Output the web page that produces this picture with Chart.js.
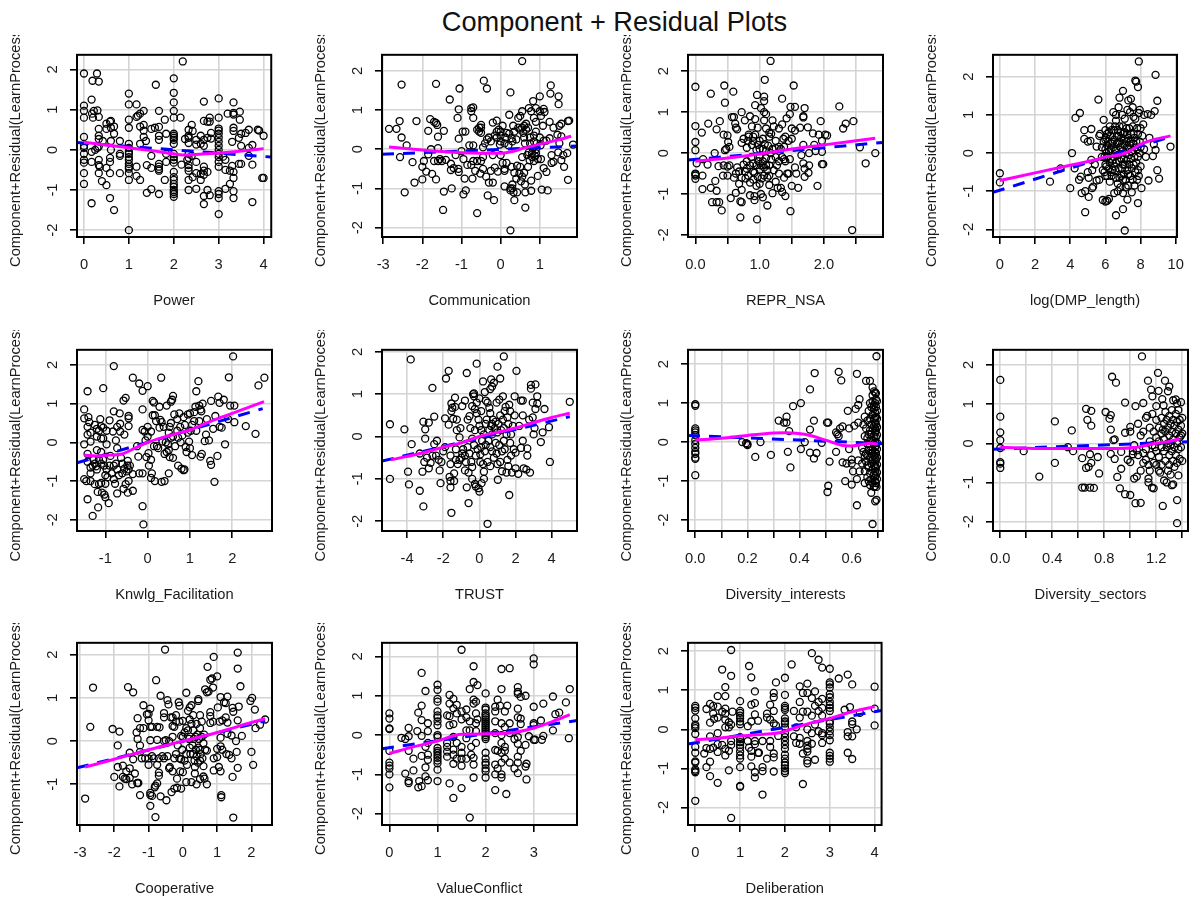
<!DOCTYPE html>
<html>
<head>
<meta charset="utf-8">
<title>Component + Residual Plots</title>
<script src="https://cdn.jsdelivr.net/npm/chart.js@4"></script>
<style>
  html, body { margin: 0; padding: 0; background: #fff; }
  #page { position: relative; width: 1203px; height: 898px; overflow: hidden; }
  #title { position: absolute; left: 0; top: 6px; width: 1229px; text-align: center; font: 27.2px "Liberation Sans", Arial, sans-serif; color: #111; }
  canvas { position: absolute; }
</style>
</head>
<body>
<div id="page"><div id="title">Component + Residual Plots</div></div>
<script>
const yAxisTitle = 'Component+Residual(LearnProcess)';

// points are [x, y] pairs
const powerPts = [[0,1.9],[0,1.1],[0,0.97],[0,0.8],[0,0.32],[0,0.1],[0,0.05],[0,-0.1],[0,-0.25],[0,-0.32],[0,-0.58],[0,-0.85],[0.17,1.25],[0.18,0.9],[0.2,0.8],[0.22,0.97],[0.29,1.9],[0.19,1.72],[0.33,1.7],[0.3,0.98],[0.33,0.82],[0.33,0.52],[0.33,0.35],[0.33,0.27],[0.42,0.22],[0.17,-1.33],[0.17,-0.3],[0.17,-0.05],[0.25,0],[0.3,0.05],[0.33,0.08],[0.33,-0.25],[0.33,-0.38],[0.35,-0.42],[0.33,-0.58],[0.4,-0.78],[0.5,-0.88],[0.5,-0.45],[0.5,0.52],[0.5,0.65],[0.58,0.7],[0.6,0.72],[0.6,0.55],[0.67,0.58],[0.67,0.4],[0.6,0.22],[0.58,-0.2],[0.58,-0.3],[0.6,0],[0.58,-0.58],[0.58,-1.2],[0.67,-1.5],[0.8,0.22],[0.8,-0.1],[0.8,-0.15],[0.8,-0.58],[1,1.4],[1,1.13],[1,0.75],[1,0.55],[1,0.15],[1,0.05],[1,-0.05],[1,-0.1],[1,-0.18],[1,-0.25],[1,-0.35],[1,-0.42],[1,-0.47],[1,-0.58],[1,-0.75],[1,-2],[1.17,1.13],[1.17,0.82],[1.2,0.85],[1.25,0.9],[1.33,0.97],[1.25,0.58],[1.33,0.62],[1.33,0.48],[1.33,0.32],[1.25,0.15],[1.38,0.22],[1.17,-0.42],[1.17,-0.65],[1.25,-0.75],[1.4,-1.07],[1.5,-0.98],[1.4,-0.38],[1.5,-0.45],[1.5,-0.15],[1.5,0.52],[1.58,0.55],[1.67,0.57],[1.6,1.62],[1.67,0.97],[1.67,0.35],[1.67,0.25],[1.67,-0.35],[1.67,-0.42],[1.67,-0.48],[1.67,-0.52],[1.67,-1.1],[1.8,0.75],[1.83,0.4],[1.83,-0.1],[1.83,-0.3],[1.8,-0.75],[2,1.78],[2,1.42],[2,1.18],[2,0.97],[2,0.8],[2,0.4],[2,0.35],[2,0.3],[2,0.25],[2,0.15],[2,-0.1],[2,-0.18],[2,-0.25],[2,-0.32],[2,-0.55],[2,-0.68],[2,-0.75],[2,-0.85],[2,-0.92],[2,-1],[2,-1.05],[2,-1.1],[2,-1.17],[2.15,0.8],[2.2,2.2],[2.17,-0.37],[2.25,0.27],[2.3,-0.25],[2.33,-0.45],[2.33,-0.52],[2.33,0.3],[2.33,0.35],[2.33,0.17],[2.33,-0.1],[2.33,-0.2],[2.33,-0.38],[2.33,-0.75],[2.33,-1],[2.33,0.5],[2.4,0.62],[2.42,0.47],[2.4,-0.15],[2.42,-0.68],[2.5,0.25],[2.5,0.13],[2.5,-0.3],[2.5,-0.58],[2.5,-0.97],[2.6,0.35],[2.6,0.15],[2.6,-0.6],[2.6,-0.75],[2.67,1.2],[2.67,0.72],[2.67,0.25],[2.67,0.1],[2.67,-0.42],[2.67,-0.52],[2.67,-0.62],[2.67,-1.15],[2.67,-1.35],[2.75,0.7],[2.75,0.3],[2.75,-0.55],[2.75,-1],[2.8,0.8],[2.8,0.7],[2.83,0.42],[2.83,0.28],[2.8,-1.13],[3,1.28],[3,0.8],[3,0.53],[3,0.48],[3,0.4],[3,0.3],[3,0.2],[3,0.1],[3,0],[3,-0.1],[3,-0.18],[3,-0.3],[3,-0.42],[3,-1.03],[3,-1.1],[3,-1.2],[3,-1.6],[3.2,0.9],[3.1,-0.17],[3.15,-0.25],[3.15,-0.5],[3.15,-0.97],[3.25,-0.52],[3.25,-0.85],[3.3,-0.4],[3.3,0.2],[3.33,0.92],[3.33,0.88],[3.33,1.18],[3.33,0.55],[3.33,0.47],[3.33,-0.55],[3.33,-0.7],[3.33,-1.03],[3.33,-1.2],[3.47,0.95],[3.47,0.75],[3.45,0.3],[3.45,-0.35],[3.5,0.4],[3.5,0.1],[3.5,-0.35],[3.6,0.42],[3.67,0.5],[3.67,0.05],[3.67,-0.15],[3.75,0.12],[3.75,-0.37],[3.75,-1.3],[3.87,0.5],[3.9,0.48],[4,0.35],[4,-0.7],[3.97,-0.7]];
const powerFit = [[0,0.19],[0.5,0.12],[1,0.05],[1.5,-0.02],[2,-0.1],[2.3,-0.13],[2.7,-0.1],[3,-0.08],[3.5,-0.03],[4,0.03]];
const powerReg = [[-0.155,0.18],[4.17,-0.18]];

const commPts = [[-2.85,0.52],[-2.66,0.52],[-2.58,0.72],[-2.53,1.65],[-2.53,0.3],[-2.57,-0.2],[-2.4,0.1],[-2.45,-1.1],[-2.25,-0.33],[-2.2,-0.85],[-2.15,0.72],[-2,-0.45],[-2,-0.77],[-1.96,-0.3],[-1.9,-0.57],[-1.85,0.47],[-1.8,0.77],[-1.75,-0.63],[-1.78,0],[-1.85,-0.13],[-1.7,0.7],[-1.65,1.67],[-1.65,0.67],[-1.62,0.62],[-1.6,0.32],[-1.6,0.03],[-1.65,-0.77],[-1.7,-0.3],[-1.6,-0.3],[-1.55,-0.25],[-1.5,-0.3],[-1.45,0.47],[-1.45,-1.08],[-1.47,-1.55],[-1.4,-0.27],[-1.3,1.27],[-1.27,-0.37],[-1.27,-0.53],[-1.25,-1],[-1.2,-0.48],[-1.15,-0.15],[-1.1,0.8],[-1.07,1.02],[-1.07,0.27],[-1.05,1.55],[-1.08,-0.5],[-1.07,-0.58],[-1,-0.05],[-0.97,0.45],[-0.9,0.45],[-0.95,-0.25],[-0.92,-0.75],[-0.95,-1.15],[-0.89,-1.05],[-0.85,-0.4],[-0.8,0.1],[-0.75,0.97],[-0.75,1.05],[-0.7,0.1],[-0.7,1.07],[-0.7,0.8],[-0.72,-0.75],[-0.75,-0.4],[-0.7,-0.3],[-0.65,-0.55],[-0.6,-0.3],[-0.6,0.5],[-0.6,-1.63],[-0.55,0.55],[-0.55,0.45],[-0.5,0.62],[-0.5,0.55],[-0.5,0.42],[-0.52,-0.62],[-0.5,-0.3],[-0.45,-0.5],[-0.45,-0.2],[-0.45,0.05],[-0.43,1.75],[-0.37,-0.7],[-0.35,0.25],[-0.35,1.55],[-0.33,-1.18],[-0.3,-0.85],[-0.3,0.3],[-0.25,-0.55],[-0.2,0.68],[-0.2,-0.85],[-0.2,-0.15],[-0.17,-1.3],[-0.15,-0.47],[-0.15,0.35],[-0.1,0.73],[-0.1,0.45],[-0.1,0.3],[-0.07,-0.57],[-0.05,0.5],[0,0.45],[0,0.35],[0,0.2],[0.05,0.6],[0,-0.15],[0.1,0.15],[0.1,-0.5],[0.1,-0.55],[0.1,-0.95],[0.15,-0.35],[0.15,0.42],[0.2,0.1],[0.22,0.88],[0.22,0.4],[0.25,1.45],[0.25,-2.07],[0.25,-1],[0.25,-1.05],[0.28,-0.45],[0.3,0.2],[0.3,-0.9],[0.3,-1],[0.32,0.6],[0.33,-1.1],[0.35,-1.3],[0.35,-0.6],[0.4,0.25],[0.4,-0.75],[0.42,-1.1],[0.45,0.8],[0.45,0.55],[0.5,0.5],[0.5,0.85],[0.5,-0.45],[0.55,2.25],[0.55,0.97],[0.55,0.55],[0.55,-0.2],[0.55,-0.7],[0.6,0.6],[0.6,0.3],[0.6,-0.6],[0.65,0.65],[0.65,0.5],[0.62,-0.9],[0.63,-1.1],[0.63,-1.49],[0.7,0.55],[0.7,-0.45],[0.72,1.05],[0.75,0.3],[0.75,0.15],[0.8,-0.1],[0.8,-0.2],[0.78,0.97],[0.78,-0.8],[0.78,-1.06],[0.83,1.23],[0.85,0.8],[0.85,0.35],[0.85,0.2],[0.85,-0.3],[0.9,1.05],[0.9,0.7],[0.9,0.45],[0.9,0],[0.9,-0.1],[0.95,-0.25],[0.95,-0.68],[1,1.35],[1,0.3],[1,0.97],[1.03,0.85],[1.03,-0.25],[1.05,-1.03],[1.08,0.6],[1.1,1.03],[1.12,0.95],[1.1,-0.48],[1.17,-0.58],[1.17,0.22],[1.2,-1.05],[1.25,0.7],[1.27,1.42],[1.28,1.63],[1.3,-0.15],[1.3,-0.35],[1.35,-0.32],[1.35,0.55],[1.45,0.37],[1.5,0.15],[1.5,0.6],[1.47,-0.08],[1.48,1.35],[1.48,1.15],[1.55,0.65],[1.55,0.33],[1.55,-0.28],[1.6,-0.15],[1.62,-0.45],[1.7,-0.1],[1.72,0.72],[1.75,0.73],[1.72,-0.78],[1.85,0.12],[0.68,-0.15],[0.72,-0.08],[0.74,-0.28],[0.82,0.02],[0.88,-0.18],[0.92,0.15],[1.02,0.1],[0.58,0.42],[0.62,0.15],[0.35,0.45],[0.28,0.28],[0.12,0.3],[0.05,-0.35],[-0.02,0.12],[-0.25,0.2],[-0.4,0.15],[0.42,-0.42],[0.48,-0.62],[0.52,-0.82],[1.1,0.22],[1.25,0.28]];
const commFit = [[-2.85,0.06],[-2,-0.02],[-1.5,-0.06],[-1,-0.09],[-0.5,-0.1],[0,-0.1],[0.3,-0.06],[0.6,0.03],[1,0.13],[1.4,0.22],[1.8,0.33]];
const commReg = [[-3.03,-0.13],[1.95,0.08]];

const reprPts = [[0,1.62],[0.1,0.5],[0,0.66],[0,0.27],[0,0.07],[0.02,-0.25],[0,-0.5],[0,-0.52],[0,-0.55],[0,-0.63],[0.11,-0.55],[0.11,-0.88],[0.2,0.72],[0.19,-0.28],[0.12,-0.15],[0.24,1.45],[0.24,-0.85],[0.26,-1.2],[0.3,0],[0.31,-0.68],[0.33,0.58],[0.33,-0.92],[0.33,-1.2],[0.37,-1.2],[0.38,0.78],[0.36,-0.32],[0.41,-1.4],[0.44,0.45],[0.43,-0.55],[0.44,-0.3],[0.46,0.07],[0.45,1.65],[0.46,1.23],[0.5,0.43],[0.48,0.1],[0.5,-0.33],[0.5,-0.55],[0.51,0.27],[0.53,0.15],[0.53,-0.3],[0.55,-1.1],[0.57,0.88],[0.59,1.5],[0.6,0.88],[0.6,-0.6],[0.62,0.72],[0.63,0.62],[0.63,-0.97],[0.63,-0.5],[0.65,0.58],[0.65,-0.35],[0.68,-0.75],[0.7,-1.18],[0.7,-1.57],[0.72,-1.2],[0.72,-0.9],[0.72,0.25],[0.72,1],[0.75,0.35],[0.77,0.8],[0.77,-0.45],[0.8,0.13],[0.8,-0.2],[0.82,-0.55],[0.83,0.4],[0.85,0.9],[0.83,0.45],[0.85,-1.03],[0.85,-0.72],[0.88,0.65],[0.9,0.3],[0.9,0.4],[0.9,-0.45],[0.9,-0.65],[0.92,-1.05],[0.92,-1.15],[0.93,1.17],[0.93,0.83],[0.93,0.45],[0.95,-0.3],[0.95,-0.8],[0.96,1.42],[0.97,0.62],[0.97,0.2],[0.96,-1.62],[1,0.1],[1,-0.1],[1,-0.4],[1,-0.75],[1.02,1.1],[1.02,-1],[1.05,0.35],[1.05,-0.2],[1.05,-1.08],[1.07,1.38],[1.07,1.27],[1.07,1],[1.07,0.8],[1.07,-0.55],[1.08,1.79],[1.1,0.95],[1.1,0.6],[1.1,0.05],[1.1,-0.3],[1.12,-0.6],[1.12,-1.28],[1.15,0.5],[1.15,0.4],[1.15,-0.3],[1.15,-0.78],[1.17,2.25],[1.17,0],[1.18,0.47],[1.2,-0.98],[1.2,0.8],[1.22,0.65],[1.25,0.3],[1.25,-0.1],[1.25,-0.7],[1.3,0.6],[1.3,0.15],[1.3,-0.2],[1.3,-0.5],[1.33,-0.85],[1.35,-0.95],[1.35,1.33],[1.35,0.7],[1.37,0.35],[1.38,0.15],[1.38,-0.15],[1.4,0.4],[1.38,-0.6],[1.4,-1.05],[1.42,0.85],[1.45,0.3],[1.45,-0.5],[1.47,-0.15],[1.47,0.95],[1.48,1.13],[1.5,0.6],[1.5,0.35],[1.5,-0.8],[1.48,-1.42],[1.53,1.65],[1.55,1.13],[1.55,0.55],[1.57,-0.5],[1.55,-0.35],[1.6,-0.85],[1.63,0.62],[1.65,-0.05],[1.68,0.9],[1.68,0.87],[1.7,1.1],[1.68,0.2],[1.68,-0.25],[1.7,-0.38],[1.7,-0.58],[1.75,0.63],[1.76,-0.48],[1.77,-0.3],[1.77,0],[1.83,0.48],[1.85,0.2],[1.87,0.05],[1.9,-0.8],[1.92,0.45],[1.95,0.78],[1.97,0.3],[1.97,0.03],[1.97,-0.27],[1.99,-0.27],[2.02,0.45],[2.05,0.43],[2.24,1.14],[2.3,0.6],[2.34,0.72],[2.46,0.78],[2.44,-1.88],[2.56,0.14],[2.65,-0.25],[2.8,0],[0.68,-0.45],[0.72,-0.6],[0.75,-0.28],[0.78,-0.62],[0.8,-0.38],[0.82,0.3],[0.85,-0.3],[0.87,-0.1],[0.88,0.2],[0.9,-0.25],[0.92,-0.48],[0.95,0.08],[0.97,-0.58],[0.98,-0.2],[1,0.3],[1.02,-0.3],[1.03,-0.62],[1.05,0.1],[1.07,-0.35],[1.08,0.22],[1.1,-0.12],[1.12,-0.42],[1.13,0.18],[1.15,-0.55],[1.18,-0.15],[1.2,0.1],[1.22,-0.42],[1.25,0.12],[1.27,-0.3],[1.28,-0.85],[1.33,0.1],[1.35,-0.1],[1.4,-0.2],[1.43,-0.5]];
const reprFit = [[0,-0.2],[0.5,-0.12],[1,-0.02],[1.5,0.1],[2,0.2],[2.5,0.3],[2.8,0.36]];
const reprReg = [[-0.115,-0.17],[2.92,0.26]];

const dmpPts = [[0,-0.53],[0,-0.77],[2.85,-0.75],[3.45,-0.4],[4,-0.92],[4.1,0],[4.25,-0.4],[4.3,0.92],[4.55,1.05],[4.5,-0.7],[4.6,-0.62],[4.65,-1.05],[4.8,0.6],[4.8,0.37],[4.85,-1.55],[4.85,-1],[5,0.3],[5,-0.5],[5.05,-1.15],[5.05,-0.65],[5.15,0.32],[5.2,0.63],[5.2,-0.18],[5.25,-0.45],[5.25,-0.92],[5.3,-0.88],[5.4,-0.3],[5.5,0.17],[5.5,-0.72],[5.6,1.4],[5.65,0.45],[5.65,-0.7],[5.7,0.5],[5.8,-0.1],[5.8,0.15],[5.85,-0.45],[5.85,-1.23],[5.9,0.87],[6,0.6],[6,0.35],[6,0.1],[6,-0.3],[6,-0.6],[6,-1.27],[6.1,-1.25],[6.1,0.5],[6.1,0.2],[6.15,-0.1],[6.2,-0.4],[6.2,-1.2],[6.25,0.7],[6.25,-0.75],[6.3,0.45],[6.3,0.1],[6.35,-0.6],[6.4,0.3],[6.4,-0.2],[6.45,1.07],[6.5,0.6],[6.5,-1.05],[6.55,-0.45],[6.6,0.85],[6.6,1],[6.6,0.1],[6.6,-1.63],[6.65,0.45],[6.7,-0.8],[6.7,-1],[6.75,1.2],[6.8,1.45],[6.8,0.7],[6.8,0.3],[6.8,-0.2],[6.85,-0.9],[6.9,-0.6],[6.95,1],[7,1.63],[7,0.5],[7,-1.47],[7,-0.3],[7,-1.05],[7.1,-2.03],[7.1,0.9],[7.1,0.2],[7.15,-0.9],[7.2,0.65],[7.25,1.13],[7.25,-1.22],[7.3,1.38],[7.3,0.4],[7.3,-0.55],[7.35,-0.05],[7.4,1.07],[7.45,1.42],[7.45,0.3],[7.5,-1.03],[7.55,1.2],[7.6,0.95],[7.6,0.5],[7.6,-0.3],[7.65,-0.85],[7.7,1.9],[7.75,1.87],[7.7,0.9],[7.7,0.15],[7.8,0.65],[7.8,-0.7],[7.85,1.73],[7.85,-0.45],[7.85,-1.31],[7.9,2.4],[7.9,1.05],[7.95,1.13],[7.95,0],[8,0.65],[8,-0.35],[8.05,-0.92],[8.1,0.45],[8.15,0.75],[8.2,1],[8.2,0.1],[8.3,-0.1],[8.4,1.02],[8.45,-0.72],[8.5,0.4],[8.6,1],[8.7,-0.08],[8.75,0.23],[8.8,1.1],[8.85,2.05],[8.95,1.37],[8.85,0.08],[8.95,-0.45],[9.05,-0.67],[9.7,0.17],[5.9,0.3],[5.95,-0.1],[5.95,-0.5],[6.05,0],[6.05,0.4],[6.05,-0.35],[6.1,-0.6],[6.15,0.3],[6.2,0.55],[6.2,0.05],[6.25,-0.25],[6.3,-0.5],[6.3,-0.15],[6.35,0.25],[6.35,0.6],[6.4,-0.45],[6.45,0.15],[6.45,-0.1],[6.5,0.35],[6.5,-0.35],[6.55,0.7],[6.55,0.05],[6.6,-0.65],[6.6,-0.25],[6.65,0.25],[6.7,0.6],[6.7,-0.05],[6.75,-0.4],[6.75,0.45],[6.8,-0.65],[6.85,0.15],[6.85,0.55],[6.9,-0.15],[6.9,0.4],[6.95,-0.4],[6.95,0.25],[7,0.05],[7,-0.7],[7,0.7],[7.05,0.35],[7.05,-0.15],[7.05,-0.55],[7.1,0.55],[7.1,-0.3],[7.15,0],[7.15,-0.7],[7.2,0.3],[7.2,-0.2],[7.25,0.5],[7.25,-0.45],[7.3,0.1],[7.3,-0.85],[7.35,0.65],[7.35,-0.3],[7.4,0.2],[7.4,-0.6],[7.45,0.5],[7.45,-0.15],[7.5,0.05],[7.5,-0.4],[7.55,0.7],[7.55,-0.7],[7.6,0.25],[7.65,-0.1],[7.65,0.4],[7.7,-0.5],[7.75,0.3],[7.75,-0.25],[7.8,0.1],[7.85,0.5],[7.85,-0.1],[7.9,-0.6],[7.95,0.3],[8,0.15]];
const dmpFit = [[0,-0.72],[2,-0.52],[4,-0.32],[5.5,-0.17],[6,-0.1],[6.7,-0.06],[7.3,0.03],[8,0.23],[8.5,0.32],[9.7,0.45]];
const dmpReg = [[-0.39,-1.03],[9.7,0.43]];

const knwlgPts = [[-1.5,0.85],[-1.5,0.62],[-1.5,-0.05],[-1.5,-0.95],[-1.45,-1],[-1.42,1.32],[-1.42,0.4],[-1.42,0.2],[-1.42,-0.3],[-1.42,-0.5],[-1.42,-1.47],[-1.4,0.65],[-1.38,0.52],[-1.35,0.25],[-1.35,0.02],[-1.35,-0.65],[-1.35,-0.8],[-1.35,-1],[-1.3,-1.9],[-1.25,0.45],[-1.25,-0.55],[-1.25,-1.08],[-1.2,0.15],[-1.2,0.35],[-1.2,-0.2],[-1.2,-0.7],[-1.18,-1.28],[-1.17,-1.68],[-1.15,0.3],[-1.15,-0.45],[-1.15,-1.08],[-1.12,0.6],[-1.1,0.42],[-1.1,0.1],[-1.1,-0.25],[-1.1,-0.55],[-1.1,-1.05],[-1.08,-1.3],[-1.05,1.4],[-1.05,0.38],[-1.05,0.1],[-1.03,-0.6],[-1.02,-1.35],[-1,-1.42],[-1,-0.85],[-1,-1.07],[-0.97,-0.05],[-0.97,0.3],[-0.97,-0.7],[-0.92,-1.57],[-0.9,0.57],[-0.88,-0.35],[-0.85,-0.8],[-0.8,1.97],[-0.8,0.8],[-0.82,0.28],[-0.8,-0.6],[-0.8,-0.95],[-0.77,-1.07],[-0.75,0.05],[-0.72,0.4],[-0.72,-0.15],[-0.72,-0.7],[-0.72,-1.32],[-0.66,0.75],[-0.65,0.48],[-0.65,0.28],[-0.63,-0.4],[-0.6,-0.55],[-0.6,-0.8],[-0.57,-1.2],[-0.55,0.2],[-0.57,1.08],[-0.52,1.15],[-0.52,-1.08],[-0.47,-0.48],[-0.45,0.68],[-0.45,0.62],[-0.45,0.42],[-0.45,-0.7],[-0.47,-1.3],[-0.45,-1],[-0.42,-0.6],[-0.35,1.67],[-0.35,-1.25],[-0.35,-0.82],[-0.25,-0.1],[-0.22,-0.37],[-0.2,-0.8],[-0.2,1.52],[-0.12,-0.8],[-0.12,1.33],[-0.12,0.85],[-0.12,0.32],[-0.12,-1.65],[-0.1,-2.12],[-0.07,0.28],[-0.05,0.05],[-0.03,-0.38],[0,1.45],[0,0.4],[0,0.15],[0.03,-0.6],[0.02,-0.28],[0.08,-0.45],[0.08,0.28],[0.08,-0.92],[0.1,-0.8],[0.12,1.07],[0.12,0.7],[0.15,1.03],[0.15,-0.1],[0.17,0.7],[0.17,-1],[0.2,0.55],[0.25,-0.15],[0.28,0.38],[0.28,0.92],[0.3,0.58],[0.32,1.67],[0.33,-1.02],[0.33,0.52],[0.38,0.4],[0.4,-0.3],[0.4,-1],[0.43,0],[0.45,0.95],[0.48,-0.05],[0.5,0.25],[0.5,-0.8],[0.5,-0.2],[0.52,0.4],[0.52,-0.38],[0.55,1.05],[0.55,0.5],[0.58,1.1],[0.6,1.2],[0.6,0.15],[0.6,-0.4],[0.63,0.72],[0.65,-0.1],[0.7,0.6],[0.7,0.3],[0.72,-0.6],[0.75,0.75],[0.77,0.4],[0.78,0],[0.8,-0.68],[0.85,-0.72],[0.87,-0.7],[0.85,0.65],[0.88,0.45],[0.92,-0.25],[0.95,0.72],[0.95,0.25],[1,0.75],[1,-0.15],[1.02,0.3],[1.05,0.45],[1.05,-0.33],[1.1,0.78],[1.13,0.92],[1.15,1.32],[1.2,1.58],[1.22,0.55],[1.22,0.95],[1.25,0.85],[1.27,0.8],[1.3,1],[1.28,-0.3],[1.25,-0.37],[1.35,0.03],[1.4,0.6],[1.38,0.2],[1.45,0.05],[1.48,-0.48],[1.5,1.07],[1.5,-0.58],[1.55,0.35],[1.6,0.68],[1.58,-1.02],[1.65,-0.35],[1.67,1.18],[1.7,1.02],[1.7,0.4],[1.75,0.38],[1.8,1.1],[1.83,-0.05],[1.9,0.6],[1.92,1.68],[1.95,0.95],[2.02,2.22],[2.05,0.52],[2.05,0.95],[2.32,0.42],[2.55,0.22],[2.62,1.47],[2.76,1.67],[-1.3,-0.6],[-1.28,-0.45],[-1.22,-0.62],[-1.05,-0.45],[-0.95,-0.9],[-0.9,-0.6],[-0.75,-0.55],[-0.68,-0.85],[-0.55,-0.68],[-0.5,-0.75],[-0.48,-0.6],[0.22,-0.1],[0.35,0.02],[0.45,-0.25],[0.55,0.12],[0.72,0.12],[0.82,0.18],[0.9,-0.12],[0.98,0.02],[1.1,0.55],[1.15,0.3]];
const knwlgFit = [[-1.5,-0.33],[-1.2,-0.35],[-0.9,-0.33],[-0.6,-0.3],[-0.3,-0.15],[0,0],[0.5,0.17],[1,0.32],[1.5,0.55],[2,0.75],[2.75,1.05]];
const knwlgReg = [[-1.67,-0.53],[2.72,0.87]];

const trustPts = [[-4.95,0.29],[-4.95,-1],[-4.15,0.17],[-3.95,-0.83],[-3.9,-1.13],[-3.8,1.82],[-3.75,-0.18],[-3.3,-1.28],[-3.3,-0.4],[-3.15,-0.83],[-3.1,-1.65],[-3.1,0.35],[-3.05,-0.6],[-3,0.17],[-3,-0.05],[-2.9,-0.5],[-2.8,0.33],[-2.8,-0.75],[-2.7,-0.62],[-2.6,1.15],[-2.5,0.47],[-2.5,-0.18],[-2.4,-0.45],[-2.35,-0.1],[-2.25,-0.55],[-2.2,-0.8],[-2.15,-1.1],[-2.1,-0.6],[-2,-0.35],[-1.9,0.43],[-1.9,-0.25],[-1.85,1.37],[-1.7,1.55],[-1.7,0.28],[-1.65,-0.95],[-1.6,-0.65],[-1.6,-0.45],[-1.6,-1.05],[-1.6,-1.2],[-1.55,-1.8],[-1.55,0.78],[-1.55,0.6],[-1.5,0.68],[-1.45,0.42],[-1.4,-1.05],[-1.4,-0.87],[-1.35,0.92],[-1.35,0.7],[-1.3,-0.3],[-1.25,0.4],[-1.25,0.15],[-1.2,-0.65],[-1.1,-0.02],[-1.05,0.2],[-1,-0.5],[-0.95,0.72],[-0.9,-0.3],[-0.8,0.85],[-0.8,-0.45],[-0.8,-0.8],[-0.7,1.5],[-0.7,-1.2],[-0.65,0.4],[-0.65,-0.25],[-0.6,-0.85],[-0.6,-1.57],[-0.55,0.48],[-0.5,0.2],[-0.45,-0.6],[-0.4,-0.72],[-0.4,0.72],[-0.4,-0.05],[-0.4,-1],[-0.35,1],[-0.3,1.02],[-0.3,0.95],[-0.3,-0.2],[-0.25,-1.12],[-0.25,0.65],[-0.2,-1.18],[-0.15,0.55],[-0.15,1.72],[-0.15,0.8],[-0.1,-0.3],[-0.05,0.4],[-0.05,-1.22],[0,0.25],[0,0.9],[0,-1.3],[0.05,-0.42],[0.05,-0.6],[0.1,0.6],[0.1,0.15],[0.12,-1.1],[0.2,1.3],[0.2,-0.65],[0.25,-0.83],[0.25,-1],[0.3,1.05],[0.35,0.85],[0.35,0.3],[0.35,-0.2],[0.45,-2.06],[0.45,0.8],[0.45,-0.6],[0.55,0.68],[0.6,1.12],[0.6,0.55],[0.6,-0.7],[0.65,1.35],[0.7,1.18],[0.7,0.3],[0.7,-0.35],[0.8,1.27],[0.8,-0.5],[0.9,0.35],[0.95,0.8],[1,1.65],[1,0.1],[1,-0.65],[1.02,-1.02],[1.1,0.87],[1.15,0.5],[1.15,-0.6],[1.15,1.37],[1.25,-0.82],[1.3,0.95],[1.35,1.89],[1.35,0.2],[1.4,-0.3],[1.45,0.7],[1.5,-0.85],[1.55,0.45],[1.55,-0.55],[1.6,-0.7],[1.65,0.75],[1.65,-1.38],[1.7,0.6],[1.75,0.05],[1.8,-0.85],[1.95,0.95],[1.95,0.5],[2,-0.75],[2,-0.38],[2.05,1.55],[2.15,-0.88],[2.2,0.25],[2.3,0.85],[2.3,-0.27],[2.4,0.85],[2.4,-0.1],[2.4,0.5],[2.45,-0.75],[2.6,-0.78],[2.65,-0.28],[2.65,-0.45],[2.75,0.4],[2.8,-0.85],[2.85,1.13],[2.85,1.22],[2.95,0.45],[2.95,0.8],[3,0.05],[3.05,0.2],[3.1,1.23],[3.1,0.65],[3.2,0.95],[3.2,0.78],[3.4,-0.13],[3.5,0.1],[3.6,0.65],[3.85,0.22],[3.9,-0.6],[5,0.82],[0.15,-0.1],[0.25,0.05],[0.3,-0.35],[0.4,0.4],[0.5,-0.1],[0.55,0.15],[0.6,-0.25],[0.65,0.25],[0.7,0.05],[0.75,0.4],[0.85,0.2],[0.9,-0.15],[0.95,-0.4],[1.05,0.3],[1.1,-0.2],[1.2,0.15],[1.25,-0.35],[1.3,0.4],[1.35,-0.1],[1.4,0.6],[1.5,0.05],[1.6,0.3],[1.7,-0.15],[1.75,-0.45],[1.85,0.25],[1.9,-0.3],[0.1,-0.25],[-0.25,0.15],[-0.55,-0.4],[-0.95,-0.4],[-1.1,-0.55],[-1.3,-0.55],[-2.6,-0.45],[-0.75,-0.6],[-0.2,-0.45]];
const trustFit = [[-4.9,-0.55],[-3,-0.37],[-2,-0.25],[-1,-0.15],[0,0],[1,0.1],[2,0.2],[3,0.33],[4,0.45],[5,0.55]];
const trustReg = [[-5.39,-0.58],[5,0.47]];

const interestsPts = [[0,0.97],[0,0.93],[0,0.35],[0,0.3],[0,0.25],[0,0.18],[0,0.05],[0,-0.05],[0,-0.15],[0,-0.25],[0,-0.3],[0,-0.4],[0,-0.43],[0,-0.85],[0.18,0],[0.2,-0.05],[0.2,-0.08],[0.195,-0.03],[0.23,-0.38],[0.25,0],[0.29,-0.33],[0.32,0.55],[0.34,0.5],[0.35,0.65],[0.35,0.5],[0.355,-0.25],[0.36,0.28],[0.365,-0.65],[0.375,0.92],[0.405,1],[0.405,-0.18],[0.42,0],[0.44,0.32],[0.44,-0.27],[0.44,1.35],[0.455,0.55],[0.455,-0.42],[0.458,1.77],[0.465,-0.28],[0.485,-0.02],[0.505,0.5],[0.51,0.5],[0.515,-0.5],[0.51,-1.12],[0.507,-1.28],[0.54,0.25],[0.54,-0.25],[0.545,0.2],[0.55,0.15],[0.55,1.8],[0.555,0.35],[0.56,1.58],[0.565,0.4],[0.565,-0.52],[0.575,-1],[0.58,-0.55],[0.585,0.8],[0.59,0.35],[0.59,-0.18],[0.6,-0.45],[0.6,-0.55],[0.6,-1.09],[0.605,-0.75],[0.61,0.42],[0.615,0.85],[0.62,1.75],[0.62,-0.95],[0.625,0.95],[0.625,0.5],[0.625,-0.47],[0.62,-1.62],[0.63,1.1],[0.63,-0.75],[0.64,-0.55],[0.64,-0.15],[0.645,0.45],[0.65,-1.05],[0.65,0.15],[0.65,-0.75],[0.655,1.57],[0.67,1.57],[0.68,1.4],[0.69,1.27],[0.695,2.2],[0.68,-2.1],[0.69,-1.52],[0.695,-1.48],[0.675,-1.3],[0.69,-1.13],[0.695,-1.15],[0.65,0.65],[0.655,0.35],[0.655,-0.3],[0.655,-0.5],[0.66,0.55],[0.66,0.1],[0.66,-0.9],[0.66,-0.05],[0.665,0.8],[0.665,-0.2],[0.665,-0.65],[0.665,-1],[0.67,1],[0.67,0.6],[0.67,0.3],[0.67,-0.1],[0.67,-0.4],[0.67,-0.8],[0.67,-1.1],[0.675,0.9],[0.675,0.45],[0.675,0.2],[0.675,-0.3],[0.675,-0.55],[0.675,-0.95],[0.68,1.2],[0.68,1.05],[0.68,0.7],[0.68,0.35],[0.68,0.05],[0.68,-0.2],[0.68,-0.45],[0.68,-0.7],[0.68,-1.05],[0.685,1.3],[0.685,0.85],[0.685,0.6],[0.685,0.4],[0.685,0.15],[0.685,-0.05],[0.685,-0.35],[0.685,-0.6],[0.685,-0.85],[0.685,-1.15],[0.69,1],[0.69,0.75],[0.69,0.5],[0.69,0.25],[0.69,0],[0.69,-0.25],[0.69,-0.5],[0.69,-0.75],[0.69,-1],[0.693,1.25],[0.693,1.1],[0.693,0.9],[0.693,0.65],[0.693,0.45],[0.693,0.3],[0.693,0.12],[0.693,-0.1],[0.693,-0.3],[0.693,-0.45],[0.693,-0.65],[0.693,-0.85],[0.693,-1.05],[0.697,1.05],[0.697,0.8],[0.697,0.6],[0.697,0.38],[0.697,0.18],[0.697,-0.02],[0.697,-0.18],[0.697,-0.4],[0.697,-0.58],[0.697,-0.78],[0.697,-0.95],[0.66,-0.6],[0.65,-0.35],[0.645,-0.25],[0.66,-0.35],[0.665,0.2],[0.675,0.05],[0.685,0.95],[0.69,0.62],[0.69,0.35],[0.69,-0.12],[0.69,-0.38],[0.69,-0.62],[0.69,-0.88]];
const interestsFit = [[0,0.05],[0.1,0.1],[0.2,0.17],[0.3,0.23],[0.35,0.24],[0.42,0.2],[0.5,0.05],[0.56,-0.08],[0.6,-0.1],[0.65,-0.05],[0.67,-0.03],[0.7,-0.05]];
const interestsReg = [[-0.028,0.17],[0.72,-0.04]];

const sectorsPts = [[0,1.62],[0,0.68],[0,0.28],[0,0.08],[0,-0.12],[0,-0.48],[0,-0.52],[0,-0.63],[0.18,-0.2],[0.3,-0.85],[0.42,0.56],[0.42,-0.5],[0.52,-0.1],[0.55,0.33],[0.56,-0.2],[0.63,-0.38],[0.63,-1.13],[0.66,-0.63],[0.66,0.88],[0.65,-1.13],[0.67,0.6],[0.68,-0.6],[0.69,-1.13],[0.7,0.83],[0.7,0.45],[0.69,-0.28],[0.7,-0.5],[0.72,-1.14],[0.75,-0.35],[0.76,-0.77],[0.81,0.8],[0.84,0.63],[0.85,0.72],[0.85,0.35],[0.85,-0.27],[0.86,1.7],[0.87,0.08],[0.88,0.1],[0.88,-0.4],[0.89,1.55],[0.9,-0.86],[0.92,-1.15],[0.93,-0.65],[0.93,-0.22],[0.96,-1.3],[0.96,1.04],[0.96,0.27],[0.98,-0.42],[1,0.42],[1,-1.32],[1,0.3],[1,-0.48],[1.02,-0.2],[1.03,-0.9],[1.04,0.95],[1.05,-0.85],[1.06,0.5],[1.06,-0.3],[1.08,0.2],[1.08,-1.52],[1.1,0.3],[1.1,1.03],[1.1,-0.5],[1.12,0.65],[1.13,0.7],[1.14,-0.9],[1.14,-1],[1.15,-0.7],[1.16,1.37],[1.17,0.75],[1.17,1.2],[1.17,-0.05],[1.18,-1.15],[1.2,0.95],[1.22,-0.7],[1.136,1.6],[1.213,1.8],[1.218,1.34],[1.246,1.13],[1.256,0.97],[1.267,1.6],[1.29,1.33],[1.3,1.45],[1.09,2.22],[1.25,-1.6],[1.36,-1.45],[1.36,-2.04],[1.39,1.05],[1.167,-1.13],[1.04,-1.53],[1.33,1.1],[1.35,1.12],[1.37,0.85],[1.36,1.02],[1.08,-0.7],[1.1,-0.25],[1.12,-0.15],[1.12,-0.42],[1.15,0.4],[1.15,0.05],[1.16,-0.3],[1.18,0.3],[1.18,-0.5],[1.2,0.6],[1.2,0.15],[1.2,-0.2],[1.2,-0.55],[1.22,0.4],[1.22,0.05],[1.22,-0.35],[1.24,0.65],[1.24,0.25],[1.24,-0.1],[1.24,-0.55],[1.26,0.5],[1.26,0.1],[1.26,-0.2],[1.26,-0.95],[1.27,0.8],[1.27,0.3],[1.27,-0.45],[1.28,0.6],[1.28,-0.1],[1.28,-1],[1.29,0.4],[1.29,0],[1.29,-0.7],[1.3,0.7],[1.3,0.2],[1.3,-0.3],[1.3,-0.55],[1.31,0.5],[1.31,-0.05],[1.31,-0.8],[1.32,0.85],[1.32,0.3],[1.32,-0.2],[1.32,-1.07],[1.33,0.6],[1.33,0.1],[1.33,-0.45],[1.33,-1.05],[1.34,0.45],[1.34,-0.1],[1.34,-0.6],[1.35,0.75],[1.35,0.25],[1.35,-0.3],[1.36,0.55],[1.36,0],[1.36,-0.5],[1.37,0.35],[1.37,-0.15],[1.37,-0.82],[1.38,0.6],[1.38,0.15],[1.38,-0.4],[1.39,0.45],[1.39,0.2],[1.39,-0.1],[1.4,0.65],[1.4,0.25],[1.4,-0.45],[1.25,0.35],[1.23,-0.75],[1.19,-0.1],[1.14,-0.55],[1.05,-0.18],[1.02,-0.28],[1.03,-0.05]];
const sectorsFit = [[0,-0.1],[0.3,-0.13],[0.6,-0.13],[0.9,-0.13],[1.05,-0.1],[1.15,-0.03],[1.2,0],[1.3,0.05],[1.38,0.11]];
const sectorsReg = [[-0.056,-0.15],[1.444,0.04]];

const coopPts = [[-2.85,-1.33],[-2.62,1.24],[-2.7,0.33],[-2.05,0.28],[-2,-0.83],[-1.9,-0.1],[-1.85,0.22],[-1.85,-1.05],[-1.9,-0.6],[-1.75,-0.83],[-1.75,-0.57],[-1.7,-0.87],[-1.65,-0.88],[-1.65,-0.7],[-1.6,1.25],[-1.55,-0.85],[-1.55,-0.63],[-1.55,-0.27],[-1.48,-1],[-1.45,1.13],[-1.45,-0.42],[-1.4,-0.75],[-1.35,0.2],[-1.32,0.05],[-1.32,0.53],[-1.33,-0.97],[-1.3,-0.97],[-1.25,-0.1],[-1.25,-0.25],[-1.25,0.3],[-1.25,-1.25],[-1.2,-0.4],[-1.15,0.83],[-1.15,0.3],[-1.1,-0.4],[-1.05,0.62],[-1,0.63],[-1,0.48],[-1,-0.55],[-0.95,0.75],[-0.95,0.33],[-0.95,0.02],[-0.95,-1.2],[-0.95,-1.25],[-0.95,-1.5],[-0.9,-1.27],[-0.9,0.33],[-0.85,-0.4],[-0.82,-1.07],[-0.8,-1.76],[-0.8,-1.03],[-0.78,1.41],[-0.75,-0.98],[-0.75,0.33],[-0.75,0.03],[-0.75,-0.55],[-0.7,-0.73],[-0.7,-0.8],[-0.68,0.32],[-0.65,1.05],[-0.65,-1.28],[-0.6,-0.35],[-0.55,0.55],[-0.55,0.65],[-0.55,0],[-0.52,2.12],[-0.5,0.02],[-0.48,-1.37],[-0.45,0.95],[-0.42,0.85],[-0.4,0],[-0.4,-0.63],[-0.38,-0.6],[-0.33,-1.18],[-0.3,0.55],[-0.3,0.35],[-0.3,0.1],[-0.3,-0.7],[-0.25,-1.1],[-0.25,0.33],[-0.2,0.45],[-0.2,-0.3],[-0.17,-0.87],[-0.17,-1.08],[-0.12,0.9],[-0.1,0.82],[-0.1,0.45],[-0.1,-0.4],[-0.08,-0.7],[-0.05,0.12],[-0.05,-1.1],[-0.05,-0.42],[0,0.47],[0,-0.72],[0.05,-0.45],[0.1,1.12],[0.1,0.3],[0.1,-0.95],[0.12,-0.55],[0.15,0.7],[0.2,0.78],[0.2,0.5],[0.2,-0.15],[0.25,-0.95],[0.25,0.83],[0.3,0.6],[0.3,0.25],[0.3,-0.3],[0.35,-0.6],[0.35,-0.75],[0.37,0.1],[0.4,0.4],[0.4,-1],[0.45,0.93],[0.45,0.97],[0.45,-0.15],[0.5,0.6],[0.5,0.3],[0.5,-0.45],[0.5,-0.88],[0.55,0.45],[0.6,-0.05],[0.6,-0.58],[0.6,-0.82],[0.63,-0.87],[0.65,1.2],[0.7,1.13],[0.7,-0.22],[0.7,-1],[0.72,1.72],[0.75,1.15],[0.8,0.67],[0.8,0.58],[0.8,0.42],[0.8,1.42],[0.85,1.45],[0.88,1.24],[0.88,0.45],[0.9,-0.4],[0.9,-0.68],[0.9,1.95],[1,1.5],[1,-0.18],[1,-0.37],[1.02,0.78],[1.05,-0.6],[1.07,0.45],[1.1,0.08],[1.1,1.02],[1.1,-0.12],[1.1,-0.7],[1.12,-1.25],[1.12,-1.3],[1.15,0.48],[1.15,-0.2],[1.2,0.9],[1.25,0.88],[1.25,0.55],[1.27,-0.3],[1.3,1.03],[1.3,0.43],[1.3,0.17],[1.35,-0.32],[1.42,0.13],[1.42,-0.4],[1.45,0.77],[1.45,-0.83],[1.47,0.68],[1.47,-1.77],[1.55,0],[1.57,-0.25],[1.6,2.05],[1.6,1.68],[1.6,0.48],[1.6,-0.62],[1.63,0.8],[1.68,1.27],[1.72,0.12],[1.97,0.93],[2,-0.25],[2.02,1],[2.05,-0.55],[2.1,0.73],[2.12,0.3],[2.25,0.38],[2.4,0.5],[0.15,0.25],[0.18,0.05],[0.22,-0.3],[0.25,0.4],[0.28,-0.1],[0.32,0.05],[0.34,-0.45],[0.38,-0.2],[0.4,-0.35],[0.42,0.15],[0.44,-0.5],[0.47,0.05],[0.5,-0.2],[0.52,-0.3],[0.55,0.1],[0.57,-0.4],[0.62,0.15],[0.65,-0.2],[0.05,0.2],[0,0.1],[-0.02,-0.2],[-0.15,-0.1],[-0.25,-0.4],[-0.45,-0.35],[-0.55,-0.4],[-0.7,-0.4],[-0.9,-0.35],[-1,-0.4],[-0.35,0.55],[-0.2,0.6],[0.1,-0.3]];
const coopFit = [[-2.85,-0.6],[-2,-0.42],[-1,-0.2],[0,0],[1,0.2],[2,0.43],[2.4,0.52]];
const coopReg = [[-3.088,-0.62],[2.4,0.47]];

const conflictPts = [[0,0.55],[0,0.42],[0,0.17],[0,0.15],[0,-0.4],[0,-0.7],[0,-0.78],[0,-0.85],[0,-1],[0,-1.33],[0.25,-0.07],[0.33,-0.1],[0.33,-0.98],[0.4,0.18],[0.4,-0.03],[0.4,-0.4],[0.4,-1.17],[0.4,-1.22],[0.5,-0.6],[0.5,-0.9],[0.58,0.1],[0.6,0.57],[0.62,-1.17],[0.6,-1.33],[0.67,1.58],[0.67,0.75],[0.67,0.38],[0.67,-0.02],[0.67,-0.53],[0.67,-1.3],[0.75,1.12],[0.75,-0.82],[0.75,-1.05],[0.75,-0.3],[0.8,-1.15],[0.8,0.3],[0.8,0.1],[0.8,-0.2],[0.8,-0.5],[0.8,-0.63],[1,1.28],[1,1.15],[1,0.92],[1,0.85],[1,0.6],[1,0.5],[1,0.45],[1,0.35],[1,0.25],[1,0],[1,-0.05],[1,-0.33],[1,-0.4],[1,-0.45],[1,-0.52],[1,-0.58],[1,-0.65],[1,-0.72],[1,-0.88],[1,-1.17],[1.2,0.5],[1.2,-0.2],[1.2,-0.3],[1.2,-0.42],[1.2,-0.55],[1.25,1.02],[1.25,0.8],[1.25,0.48],[1.25,0.25],[1.25,-1.23],[1.33,0.68],[1.33,0.92],[1.33,0.28],[1.33,-0.05],[1.33,-0.37],[1.33,-0.5],[1.33,-0.73],[1.33,-1.6],[1.4,0.77],[1.4,0.55],[1.4,-0.2],[1.4,-0.6],[1.5,2.17],[1.5,0.6],[1.5,0.4],[1.5,-0.3],[1.5,-0.45],[1.5,-0.6],[1.5,-0.78],[1.5,-1.35],[1.6,0.65],[1.6,0.45],[1.6,0.12],[1.67,0.12],[1.6,-0.08],[1.6,-0.6],[1.67,1.17],[1.67,0.35],[1.67,-2.1],[1.7,-0.3],[1.7,-0.5],[1.75,1.75],[1.75,1.35],[1.75,0.9],[1.75,0.8],[1.75,-0.58],[1.75,-0.75],[1.75,-1.08],[1.8,0.85],[1.8,0.55],[1.8,0.3],[1.8,0.1],[1.8,-0.2],[1.83,1.27],[1.83,0.4],[2,1.06],[2,0.7],[2,0.65],[2,0.55],[2,0.5],[2,0.45],[2,0.4],[2,0.35],[2,0.3],[2,0.25],[2,0.2],[2,0.15],[2,0.1],[2,0.05],[2,0],[2,-0.05],[2,-0.1],[2,-0.45],[2,-0.6],[2,-0.7],[2,-0.75],[2,-0.85],[2,-0.92],[2,-1.08],[2.2,0.72],[2.2,0.6],[2.2,0.35],[2.2,0.05],[2.2,-0.38],[2.2,-0.75],[2.2,-1],[2.2,-1.4],[2.25,0.9],[2.25,-0.85],[2.25,-0.4],[2.3,0.75],[2.33,1.68],[2.33,1.17],[2.33,0.3],[2.33,0],[2.33,-0.2],[2.33,-0.45],[2.33,-0.7],[2.33,-1],[2.33,-1.08],[2.4,0.6],[2.4,0.2],[2.4,-0.3],[2.4,-0.4],[2.4,-0.6],[2.45,0.75],[2.43,-1.5],[2.5,1.7],[2.5,0.3],[2.5,0.05],[2.5,-0.7],[2.6,-0.85],[2.6,-0.1],[2.67,1.22],[2.67,1.1],[2.67,1.05],[2.67,0.67],[2.67,0.45],[2.67,-0.05],[2.67,-0.22],[2.67,-0.55],[2.67,-0.7],[2.67,-0.97],[2.73,0.97],[2.73,0.42],[2.73,0.28],[2.73,-0.4],[2.83,1],[2.83,-0.25],[2.83,-0.8],[2.85,-0.73],[2.85,-1.13],[2.9,-0.03],[3,1.95],[3,1.8],[3,0.72],[3,0.3],[3,0.25],[3,-0.12],[3.03,-0.12],[3.15,0.37],[3.17,-0.12],[3.2,0.8],[3.2,-0.02],[3.4,0.98],[3.4,0.12],[3.45,0.53],[3.53,0.57],[3.67,0.83],[3.73,-0.08],[3.75,1.17]];
const conflictFit = [[0,-0.47],[0.5,-0.3],[1,-0.15],[1.5,0.02],[2,0.03],[2.5,0.05],[3,0.18],[3.4,0.35],[3.75,0.52]];
const conflictReg = [[-0.154,-0.35],[3.9,0.37]];

const delibPts = [[0,0.6],[0,0.55],[0,0.48],[0,0.28],[0,0.12],[0,0.08],[0,0.03],[0,-0.12],[0,-0.45],[0,-0.6],[0,-0.82],[0,-0.85],[0,-1.03],[0,-1.07],[0,-1.1],[0,-1.83],[0.2,-0.62],[0.25,-0.97],[0.25,-0.48],[0.25,0.52],[0.33,0.65],[0.33,0.17],[0.33,-0.18],[0.33,-0.5],[0.33,-0.83],[0.33,-1.2],[0.4,0.6],[0.4,0.4],[0.4,-0.47],[0.42,0.27],[0.5,0.85],[0.5,0.58],[0.5,0.3],[0.5,-0.1],[0.5,-0.38],[0.5,-0.58],[0.5,-1.37],[0.6,1.53],[0.6,0.45],[0.6,-0.4],[0.67,1.08],[0.67,0.85],[0.67,0.53],[0.67,0.4],[0.67,0.25],[0.67,0.05],[0.67,-0.5],[0.67,-0.67],[0.75,0.18],[0.75,0.05],[0.75,-1.05],[0.75,-0.55],[0.8,2.03],[0.8,1.37],[0.8,0.12],[0.8,-0.3],[0.8,-0.4],[0.8,-2.27],[0.83,0.45],[1,0.72],[1,0.47],[1,0.42],[1,0.35],[1,0.28],[1,0.2],[1,0.13],[1,-0.2],[1,-0.25],[1,-0.33],[1,-0.4],[1,-0.47],[1,-0.57],[1,-0.67],[1,-0.75],[1,-0.97],[1,-1.45],[1,-1.47],[1.17,0.08],[1.17,-0.3],[1.2,1.62],[1.2,-0.47],[1.25,1.33],[1.25,0.63],[1.25,0.2],[1.25,-0.55],[1.25,-0.7],[1.25,-0.95],[1.33,0.97],[1.33,0.67],[1.33,0.38],[1.33,-0.3],[1.33,-0.38],[1.33,-1.1],[1.33,-1.23],[1.4,0.22],[1.4,-0.6],[1.42,-0.6],[1.5,-0.3],[1.5,-0.97],[1.5,-1.07],[1.5,-1.67],[1.6,0.4],[1.6,0.3],[1.6,-0.75],[1.67,0.63],[1.67,0.25],[1.67,-0.3],[1.67,-0.45],[1.75,0.93],[1.75,0.82],[1.75,0.47],[1.75,0.15],[1.75,-0.62],[1.75,-0.72],[1.75,-1.08],[1.8,1.2],[1.8,0.1],[1.85,-0.17],[2,1.32],[2,0.88],[2,0.6],[2,0.55],[2,0.5],[2,0.28],[2,0.2],[2,0.15],[2,0.05],[2,-0.1],[2,-0.2],[2,-0.3],[2,-0.4],[2,-0.5],[2,-0.65],[2,-0.75],[2,-0.85],[2,-0.92],[2,-1],[2,-1.07],[2,-1.12],[2.15,1.66],[2.2,0.47],[2.2,-0.18],[2.25,-0.35],[2.25,0.05],[2.33,1.1],[2.33,0.7],[2.33,0.3],[2.33,-0.22],[2.33,-0.37],[2.4,0.93],[2.4,0.45],[2.4,-0.62],[2.4,-1.4],[2.5,1.17],[2.5,0.93],[2.5,0.45],[2.5,0],[2.5,-0.3],[2.5,-0.42],[2.5,-0.5],[2.5,-0.57],[2.5,-0.8],[2.5,-0.87],[2.6,1.95],[2.6,0.8],[2.6,0.35],[2.6,-0.1],[2.6,-0.37],[2.67,0.97],[2.67,0.6],[2.67,0.12],[2.67,-0.78],[2.75,1.78],[2.75,0.7],[2.75,0.47],[2.75,-0.05],[2.83,1.58],[2.83,0.78],[2.83,0.55],[2.83,0.35],[2.83,-0.1],[2.83,-0.35],[2.83,-0.15],[3,1.55],[3,1.2],[3,1.15],[3,1.07],[3,0.9],[3,0.82],[3,0.7],[3,0.62],[3,0.55],[3,0.47],[3,0.2],[3,0.15],[3,0.05],[3,-0.05],[3,-0.15],[3,-0.28],[3,-0.6],[3,-0.68],[3,-0.75],[3,-0.83],[3.2,1.3],[3.33,0.5],[3.4,1.4],[3.4,-0.07],[3.4,-0.18],[3.4,-0.6],[3.45,0.57],[3.5,1.15],[3.5,0.2],[3.5,0.13],[3.5,-0.18],[3.5,-0.76],[3.6,0],[3.67,0.42],[4,1.09],[4,0.53],[4,0.1]];
const delibFit = [[0,-0.27],[0.5,-0.23],[1,-0.17],[1.5,-0.13],[1.9,-0.08],[2.2,0.03],[2.6,0.17],[3,0.28],[3.5,0.45],[4,0.58]];
const delibReg = [[-0.162,-0.38],[4.155,0.48]];

// tick positions and the labels R printed on them
const yTicks2 = [-2, -1, 0, 1, 2];
const yTicks2Labels = ['-2', '-1', '0', '1', '2'];
const coopYTicks = [-1, 0, 1, 2];
const coopYLabels = ['-1', '0', '1', '2'];
const t04 = [0, 1, 2, 3, 4];
const t04Labels = ['0', '1', '2', '3', '4'];

const panels = [
  { name: 'Power', col: 0, row: 0, pts: powerPts, fit: powerFit, reg: powerReg, xr: [-0.155, 4.17], yr: [-2.17, 2.365], xt: t04, xl: t04Labels, yt: yTicks2, yl: yTicks2Labels },
  { name: 'Communication', col: 1, row: 0, pts: commPts, fit: commFit, reg: commReg, xr: [-3.03, 1.95], yr: [-2.24, 2.41], xt: [-3, -2, -1, 0, 1], xl: ['-3', '-2', '-1', '0', '1'], yt: yTicks2, yl: yTicks2Labels },
  { name: 'REPR_NSA', col: 2, row: 0, pts: reprPts, fit: reprFit, reg: reprReg, xr: [-0.115, 2.92], yr: [-2.05, 2.4], xt: [0, 0.5, 1, 1.5, 2, 2.5], xl: ['0.0', '', '1.0', '', '2.0', ''], yt: yTicks2, yl: yTicks2Labels },
  { name: 'log(DMP_length)', col: 3, row: 0, pts: dmpPts, fit: dmpFit, reg: dmpReg, xr: [-0.39, 10.07], yr: [-2.2, 2.574], xt: [0, 2, 4, 6, 8, 10], xl: ['0', '2', '4', '6', '8', '10'], yt: yTicks2, yl: yTicks2Labels },
  { name: 'Knwlg_Facilitation', col: 0, row: 1, pts: knwlgPts, fit: knwlgFit, reg: knwlgReg, xr: [-1.67, 2.94], yr: [-2.29, 2.39], xt: [-1, 0, 1, 2], xl: ['-1', '0', '1', '2'], yt: yTicks2, yl: yTicks2Labels },
  { name: 'TRUST', col: 1, row: 1, pts: trustPts, fit: trustFit, reg: trustReg, xr: [-5.39, 5.4], yr: [-2.23, 2.047], xt: [-4, -2, 0, 2, 4], xl: ['-4', '-2', '0', '2', '4'], yt: yTicks2, yl: yTicks2Labels },
  { name: 'Diversity_interests', col: 2, row: 1, pts: interestsPts, fit: interestsFit, reg: interestsReg, xr: [-0.028, 0.72], yr: [-2.28, 2.365], xt: [0, 0.1, 0.2, 0.3, 0.4, 0.5, 0.6, 0.7], xl: ['0.0', '', '0.2', '', '0.4', '', '0.6', ''], yt: yTicks2, yl: yTicks2Labels },
  { name: 'Diversity_sectors', col: 3, row: 1, pts: sectorsPts, fit: sectorsFit, reg: sectorsReg, xr: [-0.056, 1.444], yr: [-2.24, 2.388], xt: [0, 0.2, 0.4, 0.6, 0.8, 1, 1.2, 1.4], xl: ['0.0', '', '0.4', '', '0.8', '', '1.2', ''], yt: yTicks2, yl: yTicks2Labels },
  { name: 'Cooperative', col: 0, row: 2, pts: coopPts, fit: coopFit, reg: coopReg, xr: [-3.088, 2.6], yr: [-1.943, 2.276], xt: [-3, -2, -1, 0, 1, 2], xl: ['-3', '-2', '-1', '0', '1', '2'], yt: coopYTicks, yl: coopYLabels },
  { name: 'ValueConflict', col: 1, row: 2, pts: conflictPts, fit: conflictFit, reg: conflictReg, xr: [-0.154, 3.9], yr: [-2.288, 2.346], xt: [0, 1, 2, 3], xl: ['0', '1', '2', '3'], yt: yTicks2, yl: yTicks2Labels },
  { name: 'Deliberation', col: 2, row: 2, pts: delibPts, fit: delibFit, reg: delibReg, xr: [-0.162, 4.155], yr: [-2.45, 2.214], xt: t04, xl: t04Labels, yt: yTicks2, yl: yTicks2Labels },
];

const colLeft = [0, 305, 611, 916];
const rowTop = [35, 330, 623];
const boxTop = [54, 348, 642];
const boxW = 195, boxH = 183;
const gutterLeft = 77, gutterBottom = 75, gutterRight = 8;
const fontName = '"Liberation Sans", Arial, sans-serif';
const textColor = '#1a1a1a';

const boxPlugin = {
  id: 'box',
  afterDatasetsDraw(chart) {
    const a = chart.chartArea, c = chart.ctx;
    c.save();
    c.strokeStyle = '#000';
    c.lineWidth = 2;
    c.strokeRect(a.left, a.top, a.right - a.left, a.bottom - a.top);
    c.restore();
  }
};

const toXY = p => ({ x: p[0], y: p[1] });

panels.forEach(p => {
  const cv = document.createElement('canvas');
  const padTop = boxTop[p.row] - rowTop[p.row];
  cv.width = gutterLeft + boxW + gutterRight;
  cv.height = padTop + boxH + gutterBottom;
  cv.style.left = colLeft[p.col] + 'px';
  cv.style.top = rowTop[p.row] + 'px';
  document.getElementById('page').appendChild(cv);

  new Chart(cv.getContext('2d'), {
    type: 'scatter',
    plugins: [boxPlugin],
    data: {
      datasets: [
        { data: p.fit.map(toXY), showLine: true, borderColor: '#ff00ff', borderWidth: 3, pointRadius: 0, tension: 0.3, cubicInterpolationMode: 'monotone' },
        { data: p.reg.map(toXY), showLine: true, borderColor: '#0000ff', borderWidth: 3, borderDash: [12, 9], pointRadius: 0 },
        { data: p.pts.map(toXY), pointRadius: 3.5, pointBorderWidth: 1.3, pointBorderColor: '#000', pointBackgroundColor: 'rgba(0,0,0,0)', showLine: false, clip: false },
      ]
    },
    options: {
      responsive: false,
      animation: false,
      events: [],
      layout: { padding: { top: padTop, right: gutterRight, left: 0, bottom: 0 } },
      plugins: { legend: { display: false }, tooltip: { enabled: false } },
      font: { family: fontName },
      scales: {
        x: {
          type: 'linear',
          min: p.xr[0], max: p.xr[1],
          afterBuildTicks: s => { s.ticks = p.xt.map(v => ({ value: v })); },
          afterFit: s => { s.height = gutterBottom; },
          grid: { color: '#d4d4d4', lineWidth: 1.6, tickColor: '#000', tickLength: 7, tickWidth: 1.6 },
          border: { display: false },
          ticks: { autoSkip: false, maxRotation: 0, minRotation: 0, padding: 12, color: textColor, font: { family: fontName, size: 14.7 }, callback: (v, i) => p.xl[i] },
          title: { display: true, text: p.name, color: textColor, font: { family: fontName, size: 14.7 }, padding: { top: 0, bottom: 2 } },
        },
        y: {
          type: 'linear',
          min: p.yr[0], max: p.yr[1],
          afterBuildTicks: s => { s.ticks = p.yt.map(v => ({ value: v })); },
          afterFit: s => { s.width = gutterLeft; },
          grid: { color: '#d4d4d4', lineWidth: 1.6, tickColor: '#000', tickLength: 7, tickWidth: 1.6 },
          border: { display: false },
          ticks: { autoSkip: false, minRotation: 90, maxRotation: 90, crossAlign: 'center', padding: 11, color: textColor, font: { family: fontName, size: 14.7 }, callback: (v, i) => p.yl[i] },
          title: { display: true, text: yAxisTitle, color: textColor, font: { family: fontName, size: 14.7 }, padding: { top: 7, bottom: 0 } },
        }
      }
    }
  });
});
</script>
</body>
</html>
